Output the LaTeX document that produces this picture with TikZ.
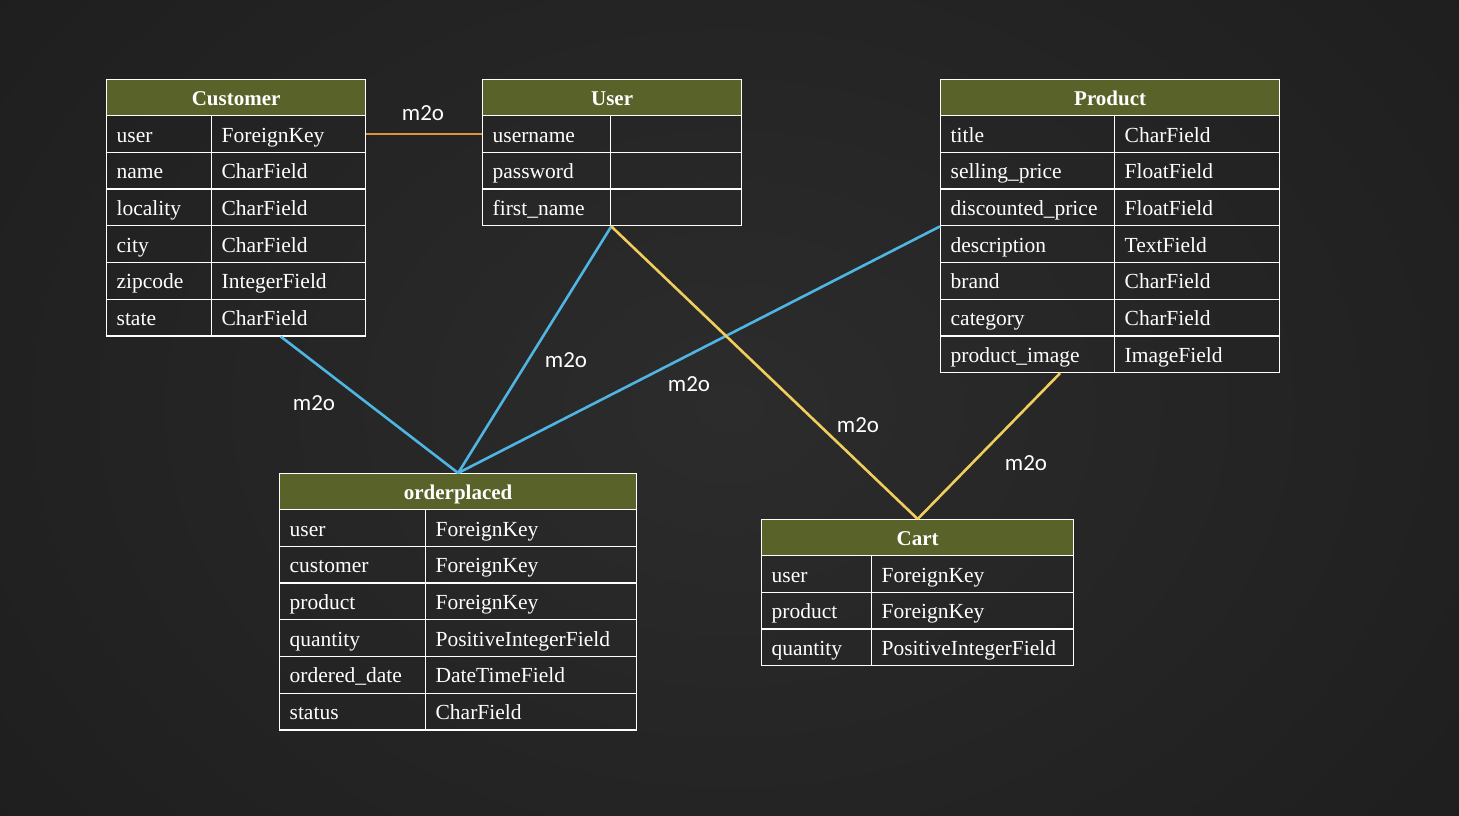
\documentclass[tikz,border=0pt]{standalone}
\usepackage{fontspec}
\setmainfont{Liberation Serif}
\newfontfamily\labelfont{Carlito}
\usetikzlibrary{calc}

\definecolor{boardbg}{RGB}{30,30,30}
\definecolor{boardmid}{RGB}{44,44,44}
\definecolor{boardedge}{RGB}{22,22,22}
\definecolor{headolive}{RGB}{88,98,41}
\definecolor{relblue}{RGB}{79,181,226}
\definecolor{relyellow}{RGB}{240,206,92}
\definecolor{relorange}{RGB}{222,146,62}

\tikzset{
  headcell/.style={draw=white, line width=1.3pt, fill=headolive, text=white,
    minimum height=36pt, inner sep=0pt, text height=18pt, text depth=2pt,
    font=\fontsize{21}{24}\selectfont\bfseries},
  rowcell/.style={draw=white, line width=1.3pt, text=white, minimum height=36.7pt,
    inner xsep=10pt, inner ysep=0pt, align=left, text height=18pt, text depth=2pt,
    font=\fontsize{21.5}{24}\selectfont},
  relline/.style={line width=2.6pt},
  m2olabel/.style={text=white, font=\labelfont\fontsize{23}{26}\selectfont, inner sep=1pt}
}

% name, x left, x divider, x right, y top, title, rows field/type
\newcommand{\modeltable}[7]{%
  \pgfmathsetmacro\fieldw{#3-#2}%
  \pgfmathsetmacro\typew{#4-#3}%
  \node[headcell, minimum width=#4pt-#2pt, anchor=north west] (#1-h) at (#2,#5) {#6};
  \foreach \f/\t [count=\i] in {#7}{
    \node[rowcell, minimum width=\fieldw pt, text width=\fieldw pt-20pt, anchor=north west]
      (#1-\i-f) at (#2,{#5+36+(\i-1)*36.7}) {\f};
    \node[rowcell, minimum width=\typew pt, text width=\typew pt-20pt, anchor=north west]
      (#1-\i-t) at (#3,{#5+36+(\i-1)*36.7}) {\t};
  }
}

\begin{document}
\begin{tikzpicture}[x=1pt,y=-1pt]
% chalkboard
\useasboundingbox (0,0) rectangle (1459,816);
\fill[boardedge] (0,0) rectangle (1459,816);
\shade[inner color=boardmid, outer color=boardbg] (-200,-300) rectangle (1659,1116);

% models
\modeltable{customer}{106}{211}{365}{79}{Customer}{user/ForeignKey, name/CharField,
  locality/CharField, city/CharField, zipcode/IntegerField, state/CharField}
\modeltable{user}{482}{610}{741}{79}{User}{username/{}, password/{}, first\_name/{}}
\modeltable{product}{940}{1114}{1279}{79}{Product}{title/CharField,
  selling\_price/FloatField, discounted\_price/FloatField, description/TextField,
  brand/CharField, category/CharField, product\_image/ImageField}
\modeltable{orderplaced}{279}{425}{636}{473}{orderplaced}{user/ForeignKey,
  customer/ForeignKey, product/ForeignKey, quantity/PositiveIntegerField,
  ordered\_date/DateTimeField, status/CharField}
\modeltable{cart}{761}{871}{1073}{519}{Cart}{user/ForeignKey, product/ForeignKey,
  quantity/PositiveIntegerField}

% relations
\draw[relline, relorange] (customer-1-t.east) -- (user-1-f.west);
\draw[relline, relblue] ([xshift=-8pt]customer-6-t.south) -- (orderplaced-h.north);
\draw[relline, relblue] (user-3-f.south east) -- (orderplaced-h.north);
\draw[relline, relblue] (product-3-f.south west) -- (orderplaced-h.north);
\draw[relline, relyellow] (user-3-f.south east) -- (cart-h.north);
\draw[relline, relyellow] ($(product-7-f.south)!0.37!(product-7-f.south east)$) -- (cart-h.north);

% labels
\node[m2olabel] (lab-cu) at (423,113) {m2o};
\node[m2olabel] (lab-co) at (314,403) {m2o};
\node[m2olabel] (lab-uo) at (566,360) {m2o};
\node[m2olabel] (lab-po) at (689,384) {m2o};
\node[m2olabel] (lab-uc) at (858,425) {m2o};
\node[m2olabel] (lab-pc) at (1026,463) {m2o};
\end{tikzpicture}
\end{document}
